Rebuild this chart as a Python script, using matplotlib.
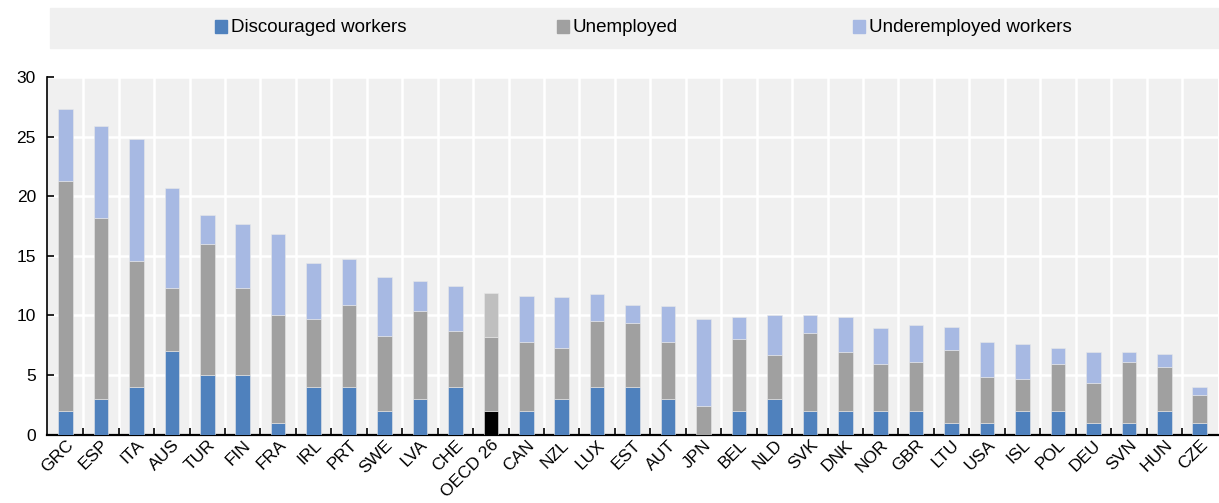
import matplotlib.pyplot as plt
import numpy as np
from matplotlib.patches import Rectangle

# 1. Input
countries = ["GRC", "ESP", "ITA", "AUS", "TUR", "FIN", "FRA", "IRL", "PRT", "SWE", "LVA",
             "CHE", "OECD 26", "CAN", "NZL", "LUX", "EST", "AUT", "JPN", "BEL", "NLD", "SVK",
             "DNK", "NOR", "GBR", "LTU", "USA", "ISL", "POL", "DEU", "SVN", "HUN", "CZE"]
discouraged = [2, 3, 4, 7, 5, 5, 1, 4, 4, 2, 3,
               4, 2, 2, 3, 4, 4, 3, 0, 2, 3, 2,
               2, 2, 2, 1, 1, 2, 2, 1, 1, 2, 1]
unemployed = [19.3, 15.2, 10.6, 5.3, 11.0, 7.3, 9.0, 5.7, 6.9, 6.3, 7.4,
              4.7, 6.2, 5.8, 4.3, 5.5, 5.35, 4.8, 2.4, 6.0, 3.7, 6.5,
              4.9, 3.9, 4.07, 6.1, 3.8, 2.7, 3.9, 3.3, 5.07, 3.7, 2.3]
underemployed = [6.0, 7.7, 10.2, 8.4, 2.4, 5.4, 6.8, 4.7, 3.85, 4.9, 2.5,
                 3.8, 3.65, 3.8, 4.2, 2.3, 1.55, 2.95, 7.3, 1.9, 3.35, 1.55,
                 3.0, 3.0, 3.13, 1.95, 3.0, 2.9, 1.4, 2.6, 0.83, 1.1, 0.7]
series_names = ["Discouraged workers", "Unemployed", "Underemployed workers"]

# 2. Process
x = np.arange(len(countries))
d = np.array(discouraged, dtype=float)
u = np.array(unemployed)
w = np.array(underemployed)

c_blue, c_gray, c_light = "#4f81bd", "#a0a0a0", "#a7b9e3"
col_d = [c_blue] * len(x)
col_u = [c_gray] * len(x)
col_w = [c_light] * len(x)
k = countries.index("OECD 26")
col_d[k], col_u[k], col_w[k] = "#000000", "#a0a0a0", "#bfbfbf"

# 3. Output
plt.rcParams['font.family'] = ['Liberation Sans', 'DejaVu Sans']
fig = plt.figure(figsize=(12.19, 5.03), dpi=100)
ax = fig.add_axes([0.0386, 0.136, 0.9604, 0.711])
ax.set_facecolor("#f0f0f0")

bw = 0.41
ax.bar(x, d, bw, color=col_d, edgecolor="#e8e8e8", linewidth=0.4, zorder=3)
ax.bar(x, u, bw, bottom=d, color=col_u, edgecolor="#e8e8e8", linewidth=0.4, zorder=3)
ax.bar(x, w, bw, bottom=d + u, color=col_w, edgecolor="#e8e8e8", linewidth=0.4, zorder=3)

ax.set_xlim(-0.52, len(x) - 0.49)
ax.set_ylim(0, 30)
ax.set_yticks(np.arange(0, 31, 5))
ax.set_xticks(x)
ax.set_xticklabels(countries, rotation=45, ha="right", rotation_mode="anchor", fontsize=12.5)
ax.set_xticks(np.arange(0.5, len(x) - 0.5, 1), minor=True)
ax.tick_params(axis="x", which="major", length=0, pad=2)
ax.tick_params(axis="x", which="minor", direction="in", length=5, width=1.2, color="black")
ax.tick_params(axis="y", direction="in", length=5, width=1.2, labelsize=12.5, pad=8)
ax.grid(True, axis="y", color="white", linewidth=1.8, zorder=1)
ax.grid(True, axis="x", which="minor", color="white", linewidth=1.8, zorder=1)
for s in ["top", "right"]:
    ax.spines[s].set_visible(False)
ax.spines["left"].set_linewidth(1.2)
ax.spines["bottom"].set_linewidth(1.6)

# legend strip
fig.patches.append(Rectangle((50 / 1219, 1 - 48 / 503), 1 - 50 / 1219, 40 / 503,
                             transform=fig.transFigure, color="#f0f0f0", zorder=0))
legend_x = [215, 557, 853]
legend_c = [c_blue, c_gray, c_light]
for lx, lc, name in zip(legend_x, legend_c, series_names):
    fig.patches.append(Rectangle((lx / 1219, 1 - 33 / 503), 12 / 1219, 13 / 503,
                                 transform=fig.transFigure, color=lc))
    fig.text((lx + 16) / 1219, 1 - 27 / 503, name, fontsize=13.5, va="center", ha="left",
             family=['Liberation Sans Narrow', 'Liberation Sans', 'DejaVu Sans'])

fig.savefig("out.png", dpi=100)
